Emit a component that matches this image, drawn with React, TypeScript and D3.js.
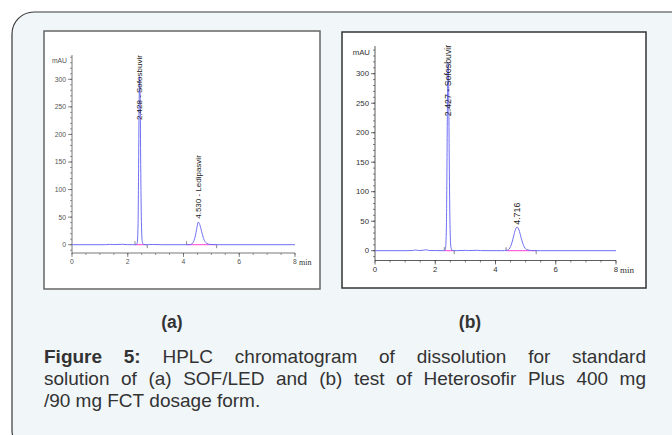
import React, { useEffect, useRef } from "react";
import * as d3 from "d3";

const W = 672;
const H = 435;

// (a) standard SOF/LED trace
const timeA = [0, 1.2, 1.35, 1.5, 1.8, 2.0, 2.3, 2.34, 2.37, 2.39, 2.41, 2.428, 2.445, 2.465, 2.49, 2.52, 2.56, 2.7, 2.9, 3.2, 4.2, 4.3, 4.38, 4.45, 4.5, 4.53, 4.58, 4.65, 4.72, 4.82, 4.95, 5.2, 8];
const mauA = [0, 0, 0.6, 0.2, 0.7, 0.1, 0, 3, 38, 145, 265, 305, 265, 145, 42, 6, 0.5, 0, 0.4, 0, 0, 1.5, 8, 22, 36, 41, 37, 24, 11, 3, 0.5, 0, 0];
const peakTimesA = [2.428, 4.53];
const peakLabelsA = ["2.428 - Sofosbuvir", "4.530 - Ledipasvir"];
const labelAtA = [226, 47];
const basesA = [[2.26, 2.7], [4.11, 5.19]];

// (b) Heterosofir Plus test trace
const timeB = [0, 1.0, 1.25, 1.35, 1.45, 1.6, 1.7, 1.8, 2.0, 2.3, 2.34, 2.37, 2.39, 2.41, 2.427, 2.445, 2.465, 2.49, 2.52, 2.56, 2.7, 3.0, 3.1, 3.4, 3.5, 4.2, 4.4, 4.5, 4.58, 4.65, 4.716, 4.78, 4.85, 4.93, 5.03, 5.2, 5.5, 8];
const mauB = [0, 0, 0.3, 1.2, 0.2, 0.8, 1.5, 0.4, 0.2, 0, 3, 40, 150, 280, 318, 280, 150, 45, 6, 0.5, 0, 0.6, 0.2, 0.7, 0.2, 0, 1, 7, 20, 34, 40, 35, 22, 9, 2, 0.3, 0, 0];
const peakTimesB = [2.427, 4.716];
const peakLabelsB = ["2.427 - Sofosbuvir", "4.716"];
const labelAtB = [228, 44];
const basesB = [[2.3, 2.63], [4.35, 5.35]];

const yMajor = [0, 50, 100, 150, 200, 250, 300];
const xMajor = [0, 2, 4, 6, 8];

const caption = [
  ["Figure", "5:", "HPLC", "chromatogram", "of", "dissolution", "for", "standard"],
  ["solution", "of", "(a)", "SOF/LED", "and", "(b)", "test", "of", "Heterosofir", "Plus", "400", "mg"],
  ["/90", "mg", "FCT", "dosage", "form."],
];

const Chromatogram = ({ frame, x0, x8, y0, y300, axisTop, axisY, fs, labelFs, minFs, axisColor, time, mau, peakT, peakLabel, labelAt, bases }) => {
  const x = d3.scaleLinear().domain([0, 8]).range([x0, x8]);
  const y = d3.scaleLinear().domain([0, 300]).range([y0, y300]);
  const line = d3.line().x((d) => x(d[0])).y((d) => y(d[1])).curve(d3.curveMonotoneX);
  const pts = time.map((t, i) => [t, mau[i]]);
  const yMinor = d3.range(-10, 341, 10).filter((v) => y(v) >= axisTop && y(v) <= axisY);
  const xMinor = d3.range(0, 8.01, 0.5);
  const font = "'Liberation Sans', Arial, sans-serif";

  return (
    <g>
      <rect x={frame.x} y={frame.y} width={frame.w} height={frame.h} fill="#fff" stroke={frame.stroke} strokeWidth={1.5} />
      {/* y axis */}
      <line x1={x0} x2={x0} y1={axisTop} y2={axisY} stroke={axisColor} strokeWidth={0.8} />
      {yMinor.map((v) => (
        <line key={"ym" + v} x1={x0 - 2} x2={x0} y1={y(v)} y2={y(v)} stroke={axisColor} strokeWidth={0.6} />
      ))}
      {yMajor.map((v) => (
        <g key={"y" + v}>
          <line x1={x0 - 4} x2={x0} y1={y(v)} y2={y(v)} stroke={axisColor} strokeWidth={0.7} />
          <text x={x0 - 6} y={y(v)} dy="0.35em" textAnchor="end" fontSize={fs} fontFamily={font} fill={axisColor}>{v}</text>
        </g>
      ))}
      <text x={x0 - 5} y={axisTop + 6} dy="0.35em" textAnchor="end" fontSize={fs} fontFamily={font} fill={axisColor}>mAU</text>
      {/* x axis */}
      <line x1={x0} x2={x8} y1={axisY} y2={axisY} stroke={axisColor} strokeWidth={0.8} />
      {xMinor.map((v) => (
        <line key={"xm" + v} x1={x(v)} x2={x(v)} y1={axisY} y2={axisY + 2} stroke={axisColor} strokeWidth={0.6} />
      ))}
      {xMajor.map((v) => (
        <g key={"x" + v}>
          <line x1={x(v)} x2={x(v)} y1={axisY} y2={axisY + 4} stroke={axisColor} strokeWidth={0.7} />
          <text x={x(v)} y={axisY + 9} dy="0.35em" textAnchor="middle" fontSize={fs} fontFamily={font} fill={axisColor}>{v}</text>
        </g>
      ))}
      <text x={x(8) + 4} y={axisY + 9} dy="0.35em" fontSize={minFs} fontFamily="'Liberation Serif', 'Times New Roman', serif" fill="#333">min</text>
      {/* integration baselines */}
      {bases.map(([a, b], i) => (
        <g key={"b" + i}>
          <line x1={x(a)} x2={x(b)} y1={y(0)} y2={y(0)} stroke="#ff3fd0" strokeWidth={1} />
          <line x1={x(a)} x2={x(a)} y1={y(0)} y2={y(0) - 3.5} stroke="#555" strokeWidth={0.7} />
          <line x1={x(b)} x2={x(b)} y1={y(0)} y2={y(0) + 3.5} stroke="#555" strokeWidth={0.7} />
        </g>
      ))}
      <path d={line(pts)} fill="none" stroke="#6f6ff5" strokeWidth={1} />
      {peakT.map((t, i) => (
        <text
          key={"p" + i}
          transform={`translate(${x(t)},${y(labelAt[i])}) rotate(-90)`}
          dy="0.35em"
          fontSize={labelFs}
          fontFamily={font}
          fill="#222"
        >
          {peakLabel[i]}
        </text>
      ))}
    </g>
  );
};

const App = () => {
  const capRef = useRef(null);

  useEffect(() => {
    const g = d3.select(capRef.current);
    g.selectAll("*").remove();
    const left = 44;
    const right = 646;
    const lineYs = [363, 385, 407];
    caption.forEach((words, li) => {
      const nodes = words.map((w, wi) =>
        g.append("text")
          .attr("y", lineYs[li])
          .attr("font-size", 19)
          .attr("font-family", "'Liberation Sans', Arial, sans-serif")
          .attr("font-weight", li === 0 && wi < 2 ? "bold" : "normal")
          .attr("fill", "#333")
          .text(w)
      );
      const widths = nodes.map((n) => n.node().getComputedTextLength());
      const total = d3.sum(widths);
      const justify = li < caption.length - 1;
      const gap = justify ? (right - left - total) / (words.length - 1) : 5.2;
      let cx = left;
      nodes.forEach((n, i) => {
        n.attr("x", cx);
        cx += widths[i] + gap;
      });
    });
  }, []);

  return (
    <svg width={W} height={H} style={{ position: "absolute", left: 0, top: 0 }}>
      <rect width={W} height={H} fill="#fff" />
      <rect x={12} y={12} width={690} height={440} rx={22} fill="#f1f6f9" stroke="#3a3a3a" strokeWidth={1.2} />
      <Chromatogram
        frame={{ x: 44, y: 31, w: 276, h: 258, stroke: "#666" }}
        x0={72} x8={295} y0={244.7} y300={79.3} axisTop={55} axisY={253}
        fs={6.8} labelFs={8} minFs={8} axisColor="#555"
        time={timeA} mau={mauA} peakT={peakTimesA} peakLabel={peakLabelsA} labelAt={labelAtA} bases={basesA}
      />
      <Chromatogram
        frame={{ x: 342, y: 32, w: 304, h: 256, stroke: "#333" }}
        x0={375} x8={616} y0={250.7} y300={73.7} axisTop={46} axisY={260.5}
        fs={7.8} labelFs={8.8} minFs={9} axisColor="#333"
        time={timeB} mau={mauB} peakT={peakTimesB} peakLabel={peakLabelsB} labelAt={labelAtB} bases={basesB}
      />
      <text x={172} y={328} textAnchor="middle" fontSize={17.5} fontWeight="bold" fontFamily="'Liberation Sans', Arial, sans-serif" fill="#333">(a)</text>
      <text x={470} y={328} textAnchor="middle" fontSize={17.5} fontWeight="bold" fontFamily="'Liberation Sans', Arial, sans-serif" fill="#333">(b)</text>
      <g ref={capRef} />
    </svg>
  );
};

export default App;
